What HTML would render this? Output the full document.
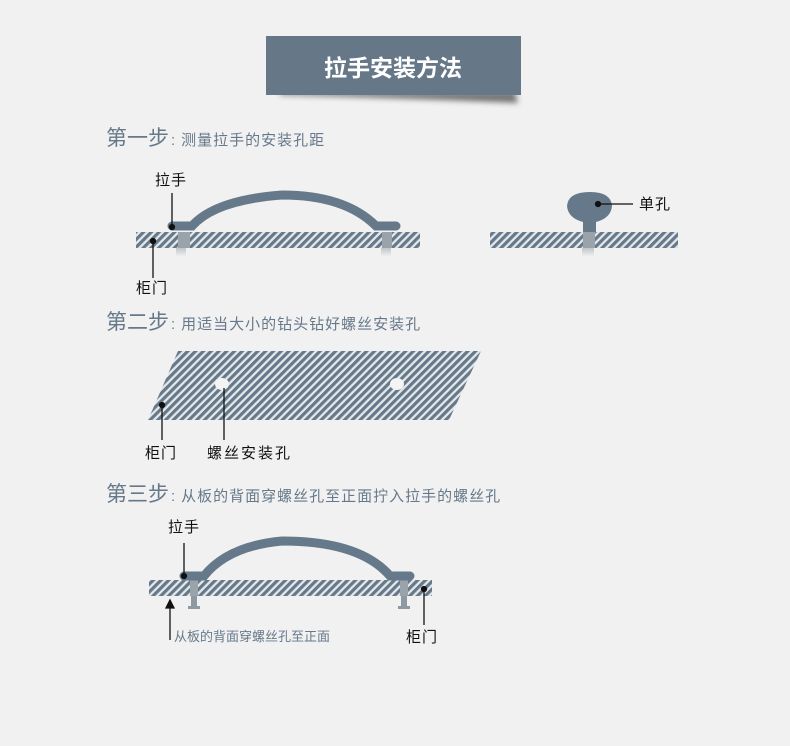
<!DOCTYPE html>
<html><head><meta charset="utf-8"><style>
html,body{margin:0;padding:0;background:#f1f1f1;}
body{width:790px;height:746px;overflow:hidden;position:relative;font-family:"Liberation Sans","Noto Sans CJK SC",sans-serif;}
svg{position:absolute;left:0;top:0}
</style></head><body>
<svg width="790" height="746" viewBox="0 0 790 746" xmlns="http://www.w3.org/2000/svg" font-family="Liberation Sans, Noto Sans CJK SC, sans-serif">
<defs>
<pattern id="h" patternUnits="userSpaceOnUse" width="5.5" height="5.5" patternTransform="rotate(45)">
<rect width="5.5" height="5.5" fill="#e4e8ea"/><rect width="3.2" height="5.5" fill="#66798a"/>
</pattern>
<filter id="sh" x="-10%" y="-10%" width="130%" height="160%"><feGaussianBlur stdDeviation="3"/></filter>
<linearGradient id="pg" x1="0" y1="0" x2="0" y2="1"><stop offset="0" stop-color="#bfc5c9"/><stop offset="1" stop-color="#eeeeee"/></linearGradient>
</defs>
<path d="M280 92 L515 92 L518 103 Q400 98 280 95Z" fill="#555" filter="url(#sh)" opacity="0.8"/>
<rect x="266" y="36" width="255" height="59" fill="#667888"/>
<text x="393" y="76" text-anchor="middle" font-size="23" font-weight="bold" fill="#fff">拉手安装方法</text>

<g fill="#66798a">
<text x="106" y="145" font-size="21">第一步<tspan font-size="15" dx="2">:</tspan><tspan font-size="15" dx="6" letter-spacing="1">测量拉手的安装孔距</tspan></text>
<text x="106" y="329" font-size="21">第二步<tspan font-size="15" dx="2">:</tspan><tspan font-size="15" dx="6" letter-spacing="1">用适当大小的钻头钻好螺丝安装孔</tspan></text>
<text x="106" y="501" font-size="21">第三步<tspan font-size="15" dx="2">:</tspan><tspan font-size="15" dx="6" letter-spacing="1">从板的背面穿螺丝孔至正面拧入拉手的螺丝孔</tspan></text>
</g>

<rect x="136" y="232" width="284" height="16" fill="url(#h)"/>
<rect x="178" y="232" width="12" height="16" fill="#9aa3aa"/>
<rect x="382" y="232" width="10" height="16" fill="#9aa3aa"/>
<rect x="176" y="248" width="10" height="8" fill="url(#pg)"/>
<rect x="381" y="248" width="10" height="8" fill="url(#pg)"/>
<path d="M172 226 L192 226 Q215 200 282 195 Q345 195 376 226 L396 226" fill="none" stroke="#66798a" stroke-width="9" stroke-linecap="round"/>
<g stroke="#111" stroke-width="1.3" fill="#111">
<line x1="172" y1="193" x2="172" y2="227"/><circle cx="172" cy="227" r="2.5"/>
<line x1="153" y1="241" x2="153" y2="278"/><circle cx="153" cy="241" r="2.5"/>
</g>
<text x="155" y="185" font-size="15" fill="#111" letter-spacing="1">拉手</text>
<text x="136" y="293" font-size="15" fill="#111" letter-spacing="1">柜门</text>

<rect x="490" y="232" width="188" height="16" fill="url(#h)"/>
<rect x="583" y="232" width="12" height="16" fill="#9aa3aa"/>
<rect x="582" y="248" width="12" height="8" fill="url(#pg)"/>
<path d="M583 232 L583 222 Q568 218 567 206 Q568 192 590 192 Q611 192 612 206 Q611 218 596 222 L596 232Z" fill="#66798a"/>
<g stroke="#111" stroke-width="1.3" fill="#111"><line x1="598" y1="204" x2="633" y2="204"/><circle cx="598" cy="204" r="2.5"/></g>
<text x="639" y="209" font-size="15" fill="#111" letter-spacing="1">单孔</text>

<polygon points="178,351 481,351 449,420 148,420" fill="url(#h)"/>
<ellipse cx="222" cy="384" rx="7" ry="6" fill="#f4f4f4"/>
<ellipse cx="397" cy="384" rx="7" ry="6" fill="#f4f4f4"/>
<g stroke="#111" stroke-width="1.3" fill="#111">
<line x1="162" y1="405" x2="162" y2="440"/><circle cx="162" cy="405" r="2.5"/>
<line x1="224" y1="388" x2="224" y2="440"/>
</g>
<text x="145" y="458" font-size="15" fill="#111" letter-spacing="1">柜门</text>
<text x="207" y="458" font-size="15" fill="#111" letter-spacing="2">螺丝安装孔</text>

<rect x="149" y="580" width="283" height="16" fill="url(#h)"/>
<rect x="190" y="580" width="8" height="16" fill="#9aa3aa"/>
<rect x="400" y="580" width="8" height="16" fill="#9aa3aa"/>
<rect x="191" y="596" width="6" height="12" fill="#8f99a1"/>
<rect x="401" y="596" width="6" height="12" fill="#8f99a1"/>
<rect x="188" y="606" width="12" height="3" fill="#8f99a1"/>
<rect x="398" y="606" width="12" height="3" fill="#8f99a1"/>
<path d="M184 576 L204 576 Q228 546 282 541 Q360 541 390 576 L410 576" fill="none" stroke="#66798a" stroke-width="9" stroke-linecap="round"/>
<g stroke="#111" stroke-width="1.3" fill="#111">
<line x1="184" y1="543" x2="184" y2="576"/><circle cx="184" cy="576" r="2.5"/>
<line x1="424" y1="589" x2="424" y2="625"/><circle cx="424" cy="589" r="2.5"/>
<line x1="170" y1="607" x2="170" y2="640"/>
<polygon points="166,608 174,608 170,600"/>
</g>
<text x="168" y="532" font-size="15" fill="#111" letter-spacing="1">拉手</text>
<text x="406" y="642" font-size="15" fill="#111" letter-spacing="1">柜门</text>
<text x="174" y="641" font-size="13" fill="#66798a">从板的背面穿螺丝孔至正面</text>
</svg>
</body></html>
